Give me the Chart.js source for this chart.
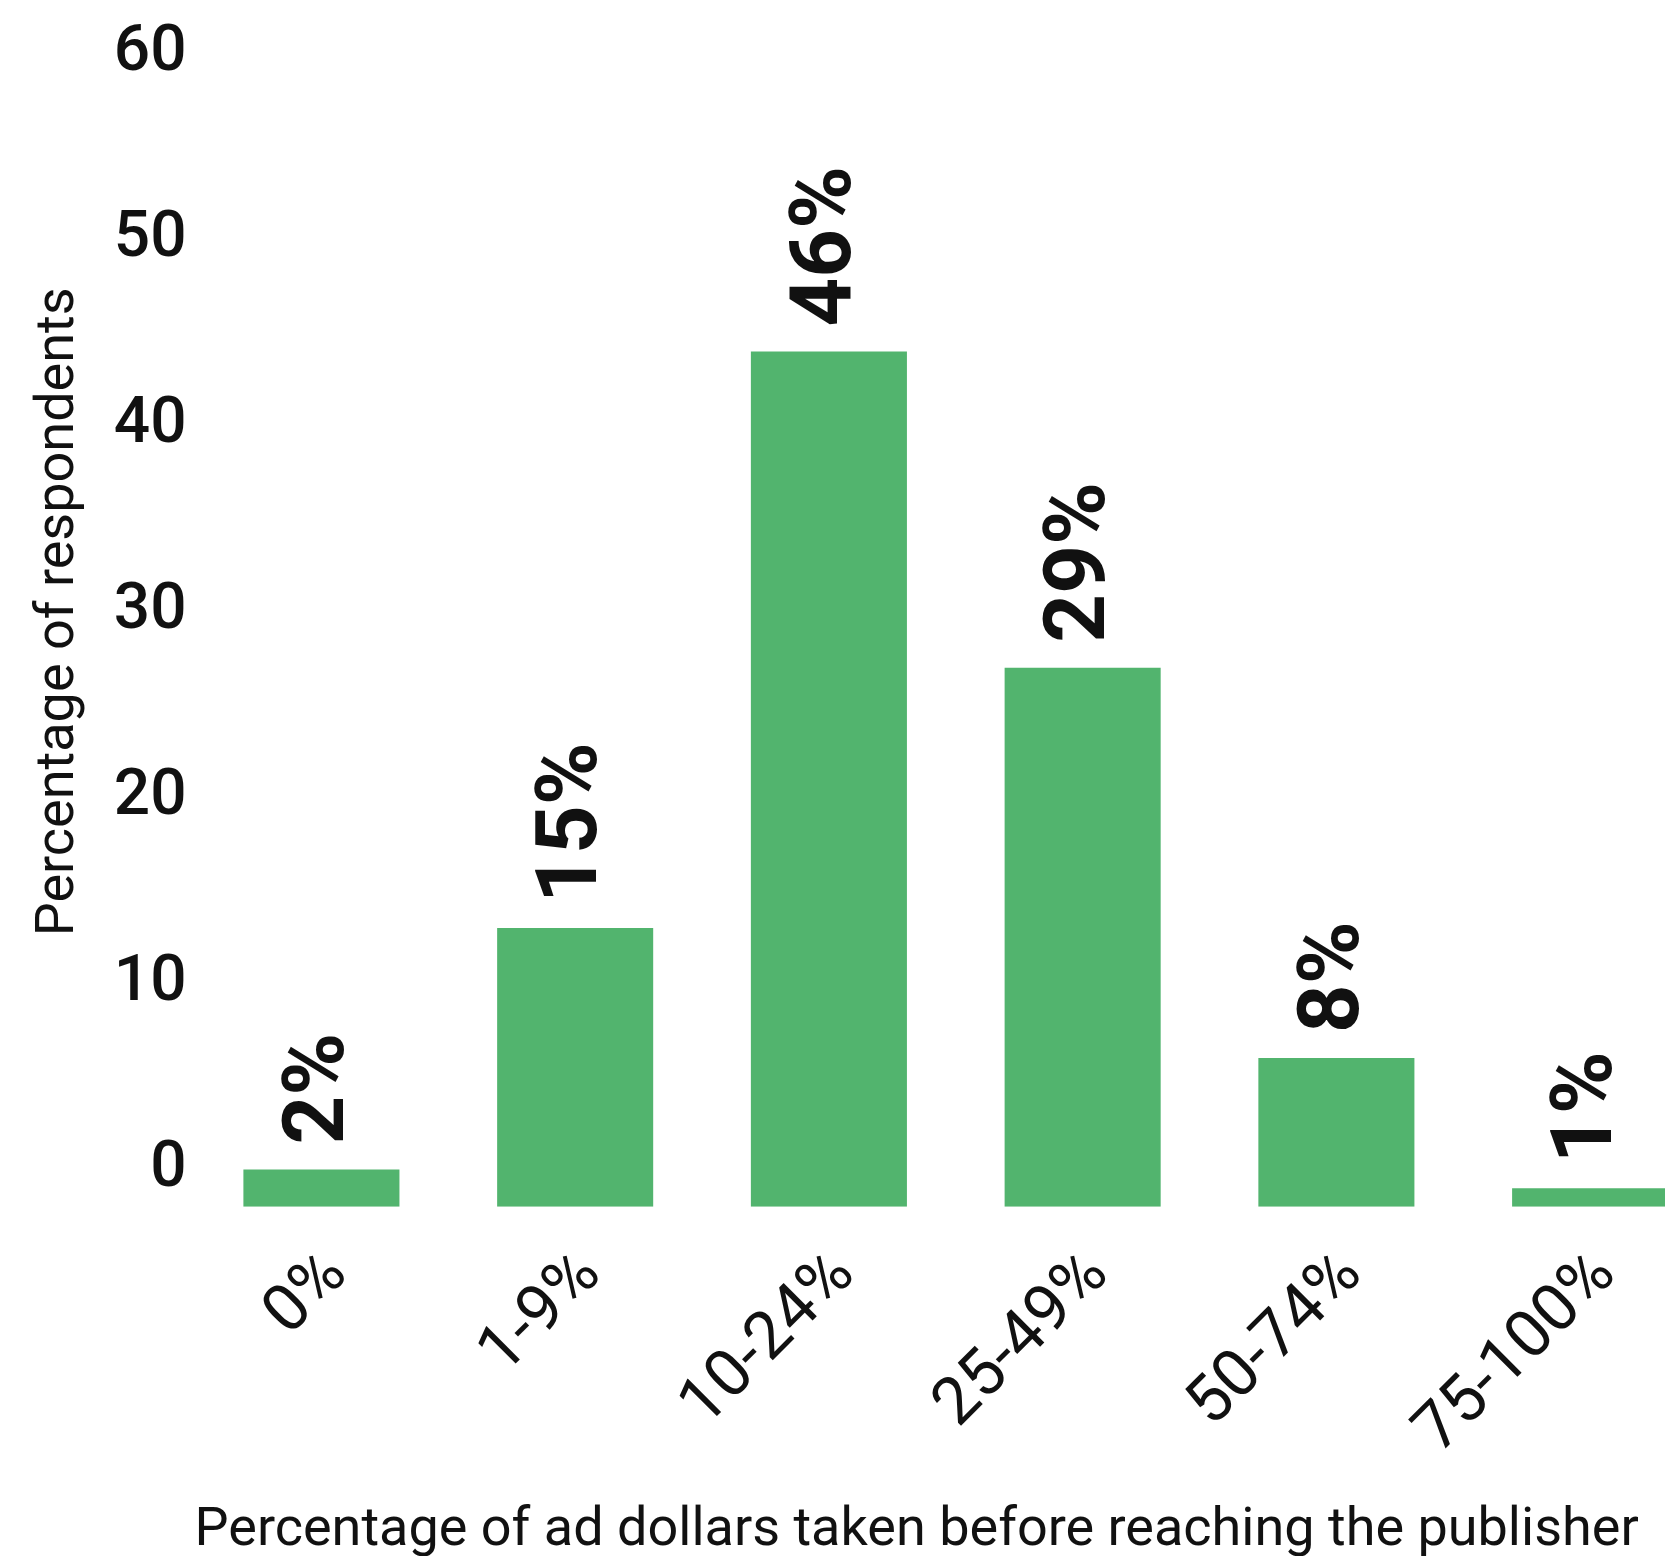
<!DOCTYPE html>
<html>
<head>
<meta charset="utf-8">
<script src="https://cdn.jsdelivr.net/npm/chart.js@4/dist/chart.umd.min.js"></script>
<style>
  html, body { margin: 0; padding: 0; background: #ffffff; overflow: hidden; }
  canvas { display: block; }
</style>
</head>
<body>
<canvas id="chart" width="1717" height="1556"></canvas>
<script>
// Share of ad dollars taken before reaching the publisher
const categories = ['0%', '1-9%', '10-24%', '25-49%', '50-74%', '75-100%'];
const respondentShares = [2, 15, 46, 29, 8, 1];
const yTickValues = [0, 10, 20, 30, 40, 50, 60];
const xAxisTitle = 'Percentage of ad dollars taken before reaching the publisher';
const yAxisTitle = 'Percentage of respondents';

const BAR_GREEN = '#52b46e';
const FONT = 'Roboto, "Noto Sans", sans-serif';

// Writes each bar's value, rotated, just above the bar
const valueLabels = {
  id: 'valueLabels',
  afterDatasetsDraw(chart) {
    const { ctx } = chart;
    const meta = chart.getDatasetMeta(0);
    const values = chart.data.datasets[0].data;
    ctx.save();
    ctx.fillStyle = '#111111';
    ctx.font = `bold 85px ${FONT}`;
    ctx.textAlign = 'left';
    ctx.textBaseline = 'middle';
    meta.data.forEach((bar, i) => {
      ctx.save();
      ctx.translate(bar.x, bar.y - 25);
      ctx.rotate(-Math.PI / 2);
      ctx.fillText(values[i] + '%', 0, 0);
      ctx.restore();
    });
    ctx.restore();
  }
};

new Chart(document.getElementById('chart'), {
  type: 'bar',
  data: {
    labels: categories,
    datasets: [{
      data: respondentShares,
      backgroundColor: BAR_GREEN,
      borderWidth: 0,
      categoryPercentage: 1,
      barPercentage: 0.615
    }]
  },
  options: {
    responsive: false,
    animation: false,
    layout: { padding: { top: 17, right: 0, bottom: 0, left: 0 } },
    plugins: {
      legend: { display: false },
      tooltip: { enabled: false }
    },
    scales: {
      x: {
        grid: { display: false, drawTicks: false },
        border: { display: false },
        ticks: {
          color: '#111111',
          font: { family: FONT, size: 66, weight: '400' },
          minRotation: 45,
          maxRotation: 45,
          padding: 30,
          labelOffset: 16
        },
        title: {
          display: true,
          text: xAxisTitle,
          align: 'start',
          color: '#111111',
          font: { family: FONT, size: 54, weight: '400', lineHeight: 0.89 },
          padding: { top: 7, bottom: 0 }
        }
      },
      y: {
        min: 0,
        max: 64,
        afterBuildTicks(scale) {
          scale.ticks = yTickValues.map(v => ({ value: v }));
        },
        grid: { display: false, drawTicks: false },
        border: { display: false },
        ticks: {
          color: '#111111',
          font: { family: FONT, size: 64, weight: '500', lineHeight: 0.2 },
          padding: 8,
          labelOffset: -37
        },
        title: {
          display: true,
          text: yAxisTitle,
          color: '#111111',
          font: { family: FONT, size: 54, weight: '400', lineHeight: 1.2 },
          padding: { top: 27, bottom: 14 }
        }
      }
    }
  },
  plugins: [valueLabels]
});
</script>
</body>
</html>
